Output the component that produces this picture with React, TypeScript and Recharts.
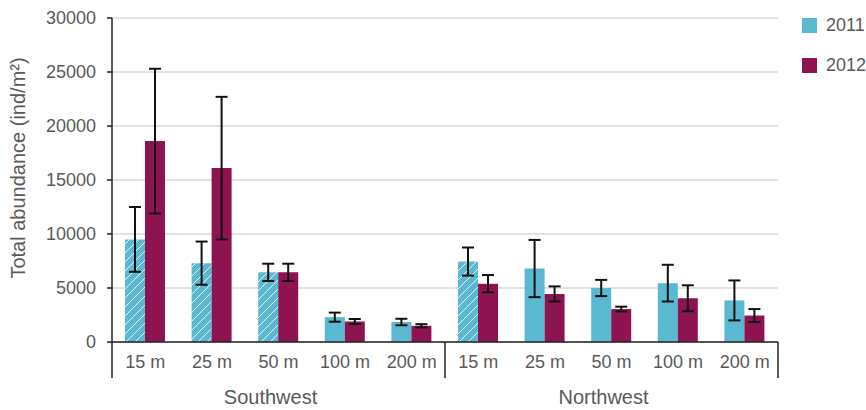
import React from "react";
import {
  BarChart,
  Bar,
  XAxis,
  YAxis,
  CartesianGrid,
  ErrorBar,
  Cell,
  Legend,
} from "recharts";

// depth stations, two transects of five each
const depths = ["15 m", "25 m", "50 m", "100 m", "200 m", "15 m", "25 m", "50 m", "100 m", "200 m"];
const regions = ["Southwest", "Northwest"];

// mean abundance (ind/m²) and error per year
const abundance2011 = [9500, 7300, 6450, 2300, 1850, 7450, 6800, 5000, 5450, 3850];
const error2011 = [3000, 2000, 800, 420, 300, 1300, 2650, 750, 1700, 1850];
const abundance2012 = [18600, 16100, 6450, 1900, 1500, 5400, 4450, 3050, 4050, 2450];
const error2012 = [6700, 6600, 800, 230, 150, 800, 700, 220, 1200, 600];

// 2011 stations drawn with the hatched fill
const hatched2011 = [true, true, true, false, false, true, false, false, false, false];

const yTicks = [0, 5000, 10000, 15000, 20000, 25000, 30000];

const BLUE = "#5AB8D0";
const MAROON = "#8D1450";
const TEXT = "#595959";
const FONT = "'Liberation Sans', Arial, sans-serif";

const data = depths.map((d, i) => ({
  depth: d,
  v2011: abundance2011[i],
  e2011: error2011[i],
  v2012: abundance2012[i],
  e2012: error2012[i],
}));

const PLOT_LEFT = 112;
const PLOT_RIGHT = 778;
const PLOT_BOTTOM = 342;
const BAND = (PLOT_RIGHT - PLOT_LEFT) / depths.length;

const DepthTick = (props: any) => {
  const { x, payload, index } = props;
  const i = payload?.index ?? index;
  const half = BAND / 2;
  const groupSize = depths.length / regions.length;
  const y0 = PLOT_BOTTOM;
  return (
    <g>
      <text x={x} y={y0 + 26} textAnchor="middle" fill={TEXT} fontSize={18} fontFamily={FONT}>
        {payload.value}
      </text>
      {i % groupSize === 0 && (
        <line x1={x - half} x2={x - half} y1={y0} y2={y0 + 36} stroke="#222" strokeWidth={1.5} />
      )}
      {i === depths.length - 1 && (
        <line x1={x + half} x2={x + half} y1={y0} y2={y0 + 36} stroke="#222" strokeWidth={1.5} />
      )}
      {i % groupSize === Math.floor(groupSize / 2) && (
        <text x={x - 8} y={y0 + 62} textAnchor="middle" fill={TEXT} fontSize={20} fontFamily={FONT}>
          {regions[Math.floor(i / groupSize)]}
        </text>
      )}
    </g>
  );
};

const YLabel = () => (
  <text
    x={25}
    y={168}
    transform="rotate(-90, 25, 168)"
    textAnchor="middle"
    fill={TEXT}
    fontSize={20}
    fontFamily={FONT}
  >
    Total abundance (ind/m²)
  </text>
);

const LegendBox = () => (
  <div style={{ fontFamily: FONT, fontSize: 18, color: TEXT }}>
    {[
      { label: "2011", color: BLUE },
      { label: "2012", color: MAROON },
    ].map((it) => (
      <div key={it.label} style={{ display: "flex", alignItems: "center", height: 20, marginBottom: 20 }}>
        <span style={{ width: 15, height: 15, background: it.color, display: "inline-block", marginRight: 9 }} />
        <span>{it.label}</span>
      </div>
    ))}
  </div>
);

export default function App() {
  return (
    <div style={{ position: "absolute", left: 0, top: 0, width: 866, height: 410, overflow: "hidden", background: "#fff" }}>
      <BarChart
        width={866}
        height={410}
        data={data}
        margin={{ top: 18, right: 866 - PLOT_RIGHT, left: 0, bottom: 0 }}
        barGap={0}
      >
        <defs>
          <pattern id="hatch2011" patternUnits="userSpaceOnUse" width={9} height={9}>
            <rect width={9} height={9} fill={BLUE} />
            <path d="M-2,2 L2,-2 M0,9 L9,0 M7,11 L11,7" stroke="#ffffff" strokeWidth={1} strokeOpacity={0.85} />
          </pattern>
        </defs>
        <CartesianGrid vertical={false} stroke="#d9d9d9" strokeWidth={1.5} />
        <XAxis
          dataKey="depth"
          height={410 - PLOT_BOTTOM}
          interval={0}
          tickLine={false}
          tickMargin={0}
          axisLine={{ stroke: "#222", strokeWidth: 1.5 }}
          tick={<DepthTick />}
        />
        <YAxis
          width={PLOT_LEFT}
          domain={[0, 30000]}
          ticks={yTicks}
          tickSize={5}
          tickMargin={11}
          axisLine={{ stroke: "#222", strokeWidth: 1.5 }}
          tickLine={{ stroke: "#222", strokeWidth: 1.5 }}
          tick={{ fill: TEXT, fontSize: 18, fontFamily: FONT }}
          label={<YLabel />}
        />
        <Legend
          layout="horizontal"
          verticalAlign="middle"
          align="center"
          content={<LegendBox />}
          wrapperStyle={{ left: 802, top: 15, width: 80 }}
        />
        <Bar dataKey="v2011" name="2011" fill={BLUE} barSize={20} isAnimationActive={false}>
          {data.map((_, i) => (
            <Cell key={i} fill={hatched2011[i] ? "url(#hatch2011)" : BLUE} />
          ))}
          <ErrorBar dataKey="e2011" stroke="#111" strokeWidth={2} width={6} />
        </Bar>
        <Bar dataKey="v2012" name="2012" fill={MAROON} barSize={20} isAnimationActive={false}>
          <ErrorBar dataKey="e2012" stroke="#111" strokeWidth={2} width={6} />
        </Bar>
      </BarChart>
    </div>
  );
}
